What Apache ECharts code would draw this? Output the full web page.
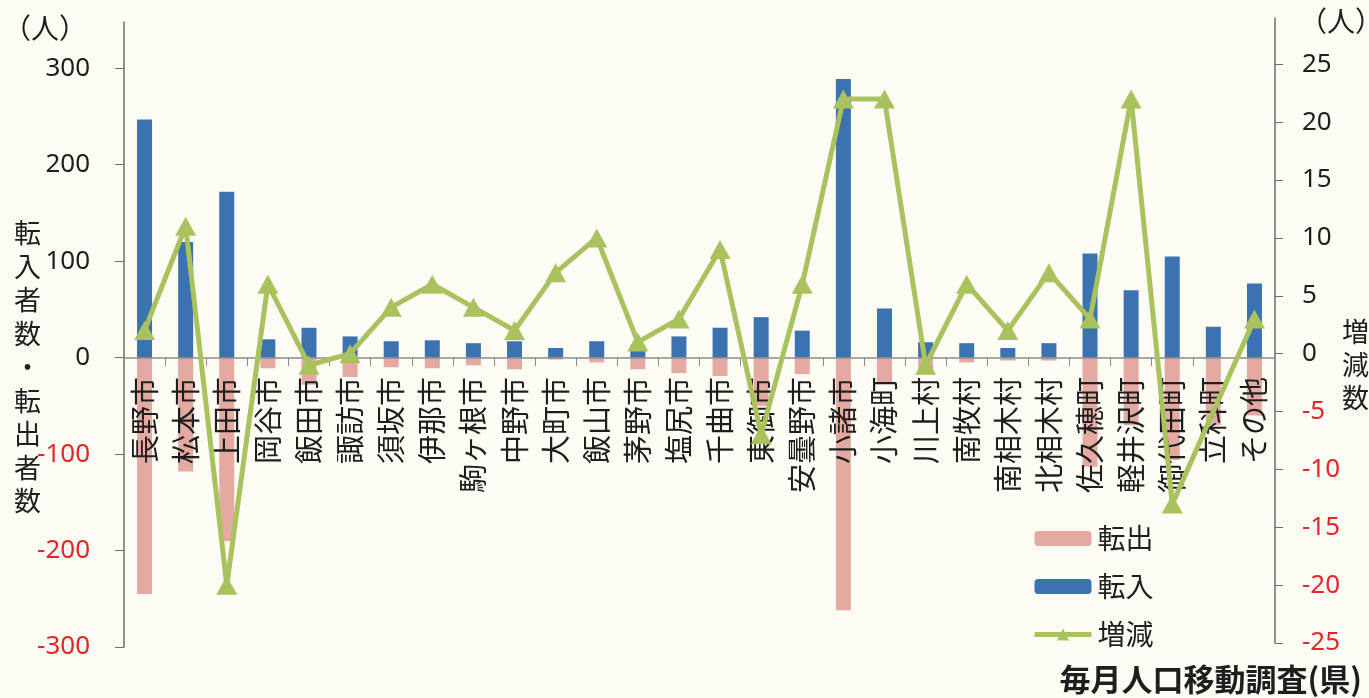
<!DOCTYPE html>
<html><head><meta charset="utf-8">
<script src="https://cdn.jsdelivr.net/npm/echarts@6/dist/echarts.min.js"></script>
<style>html,body{margin:0;padding:0;background:#fdfcf4;} #c{width:1369px;height:698px;}</style>
</head><body><div id="c"></div>
<script>
const categories = ['長野市','松本市','上田市','岡谷市','飯田市','諏訪市','須坂市','伊那市','駒ヶ根市','中野市','大町市','飯山市','茅野市','塩尻市','千曲市','東御市','安曇野市','小諸市','小海町','川上村','南牧村','南相木村','北相木村','佐久穂町','軽井沢町','御代田町','立科町','その他'];
const tennyu = [247,120,172,19,31,22,17,18,15,17,10,17,13,22,31,42,28,289,51,16,15,10,15,108,70,105,32,77];
const tenshutsu = [-245,-118,-190,-11,-28,-20,-10,-11,-8,-12,-2,-5,-12,-16,-19,-50,-17,-262,-27,-17,-5,-3,-3,-113,-70,-106,-70,-60];
const zougen = [2,11,-20,6,-1,0,4,6,4,2,7,10,1,3,9,-7,6,22,22,-1,6,2,7,3,22,-13,null,3];
const leftTicks = [-300,-200,-100,0,100,200,300];
const rightTicks = [-25,-20,-15,-10,-5,0,5,10,15,20,25];

const NUMF = "'Noto Sans', 'Noto Sans CJK JP', sans-serif";
const CJKF = "'Noto Sans CJK JP', 'Noto Sans', sans-serif";
const RED = '#e3262c';
const BLACK = '#1e1e1e';
const GREEN = '#a9c25d';

const chart = echarts.init(document.getElementById('c'), null, {renderer: 'canvas'});
chart.setOption({
  backgroundColor: '#fdfcf4',
  animation: false,
  grid: [
    {left: 124, right: 94, top: 22, bottom: 51, outerBoundsMode: 'none', containLabel: false},
    {left: 124, right: 94, top: 18, bottom: 55, outerBoundsMode: 'none', containLabel: false}
  ],
  legend: {
    orient: 'vertical',
    left: 1027,
    top: 518,
    itemWidth: 57,
    itemHeight: 15,
    itemGap: 17,
    data: ['転出', '転入', '増減'],
    lineStyle: {width: 5},
    textStyle: {fontSize: 28, fontFamily: CJKF, color: BLACK, lineHeight: 31, padding: [0, 0, 0, 1]}
  },
  xAxis: [
    {
      type: 'category', gridIndex: 0, data: categories, z: 3,
      position: 'bottom', offset: -289,
      axisLine: {onZero: false, lineStyle: {color: '#8a8a8a', width: 1.5}},
      axisTick: {show: true, interval: 0, length: 8, lineStyle: {color: '#8a8a8a'}},
      axisLabel: {interval: 0, rotate: 90, margin: 19, fontSize: 29, fontFamily: CJKF, color: BLACK}
    },
    {type: 'category', gridIndex: 1, data: categories, show: false}
  ],
  yAxis: [
    {
      type: 'value', gridIndex: 0, position: 'left', min: -300, max: 348,
      splitLine: {show: false},
      axisLine: {show: true, lineStyle: {color: '#6e6e6e', width: 1.5}},
      axisTick: {show: true, length: 9, customValues: leftTicks, lineStyle: {color: '#6e6e6e'}},
      axisLabel: {
        customValues: leftTicks, margin: 34, fontSize: 26, fontFamily: NUMF,
        color: function (v) { return Number(v) < 0 ? RED : BLACK; }
      }
    },
    {
      type: 'value', gridIndex: 1, position: 'right', min: -25, max: 29,
      splitLine: {show: false},
      axisLine: {show: true, lineStyle: {color: '#6e6e6e', width: 1.5}},
      axisTick: {show: true, length: 8, customValues: rightTicks, lineStyle: {color: '#6e6e6e'}},
      axisLabel: {
        customValues: rightTicks, margin: 27, fontSize: 26, fontFamily: NUMF,
        color: function (v) { return Number(v) < 0 ? RED : BLACK; }
      }
    }
  ],
  series: [
    {
      name: '転出', type: 'bar', xAxisIndex: 0, yAxisIndex: 0, data: tenshutsu,
      barWidth: 15, barGap: '-100%', z: 2,
      itemStyle: {color: '#e4aaa2'}
    },
    {
      name: '転入', type: 'bar', xAxisIndex: 0, yAxisIndex: 0, data: tennyu,
      barWidth: 15, barGap: '-100%', z: 2,
      itemStyle: {color: '#3b72b0'}
    },
    {
      name: '増減', type: 'line', xAxisIndex: 1, yAxisIndex: 1, data: zougen,
      connectNulls: true, z: 5,
      symbol: 'triangle', symbolSize: [21, 19],
      lineStyle: {color: GREEN, width: 5},
      itemStyle: {color: GREEN}
    }
  ],
  graphic: [
    {type: 'text', left: 3, top: 14, z: 10, style: {text: '（人）', fontSize: 28, fontFamily: CJKF, fill: BLACK}},
    {type: 'text', left: 1299, top: 7, z: 10, style: {text: '（人）', fontSize: 28, fontFamily: CJKF, fill: BLACK}},
    {type: 'text', left: 14, top: 216, z: 10, style: {text: '転\n入\n者\n数\n・\n転\n出\n者\n数', fontSize: 27, lineHeight: 33.5, align: 'center', fontFamily: CJKF, fill: BLACK}},
    {type: 'text', left: 1342, top: 315, z: 10, style: {text: '増\n減\n数', fontSize: 27, lineHeight: 33, align: 'center', fontFamily: CJKF, fill: BLACK}},
    {type: 'text', right: 7, top: 664, z: 10, style: {text: '毎月人口移動調査(県)', fontSize: 31, fontWeight: 'bold', fontFamily: CJKF, fill: BLACK}}
  ]
});
</script>
</body></html>
